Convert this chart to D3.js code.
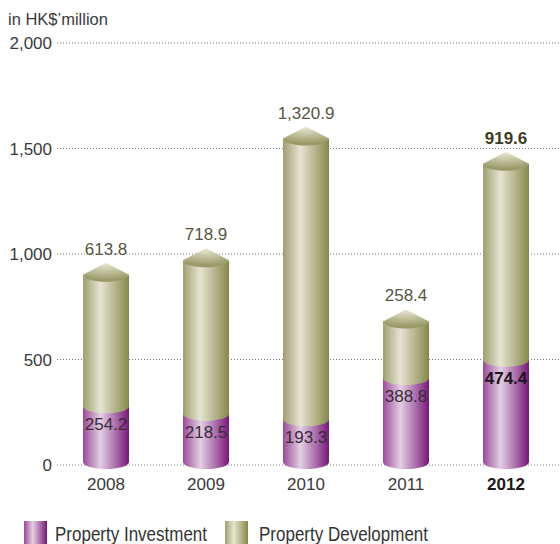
<!DOCTYPE html>
<html>
<head>
<script src="https://cdnjs.cloudflare.com/ajax/libs/d3/7.8.5/d3.min.js"></script>
<style>
  body { margin: 0; background: #fff; }
  text { font-family: "Liberation Sans", Arial, sans-serif; }
</style>
</head>
<body>
<div id="chart"></div>
<script>
var years = ["2008", "2009", "2010", "2011", "2012"];
var investment = [254.2, 218.5, 193.3, 388.8, 474.4];
var development = [613.8, 718.9, 1320.9, 258.4, 919.6];
var yTicks = [0, 500, 1000, 1500, 2000];
var seriesNames = ["Property Investment", "Property Development"];

var W = 560, H = 544;
var svg = d3.select("#chart").append("svg")
  .attr("width", W).attr("height", H);

var y = d3.scaleLinear().domain([0, 2000]).range([465, 43]);
var x = d3.scaleBand().domain(years).range([56, 556]).paddingInner(0.54).paddingOuter(0.27);

var defs = svg.append("defs");
function hGrad(id, stops) {
  var g = defs.append("linearGradient").attr("id", id)
    .attr("x1", "0%").attr("x2", "100%").attr("y1", "0%").attr("y2", "0%");
  stops.forEach(function(s) {
    g.append("stop").attr("offset", s[0]).attr("stop-color", s[1]);
  });
}
hGrad("olive", [["0%", "#9f9f72"], ["38%", "#e6e4d2"], ["100%", "#85874a"]]);
hGrad("purple", [["0%", "#9a4b97"], ["38%", "#e3cfe3"], ["100%", "#781878"]]);
var rg = defs.append("radialGradient").attr("id", "cone")
  .attr("cx", "50%").attr("cy", "0%").attr("r", "90%");
rg.append("stop").attr("offset", "0%").attr("stop-color", "#ecead9");
rg.append("stop").attr("offset", "100%").attr("stop-color", "#999a68");

// grid
svg.append("g").selectAll("line").data(yTicks).enter().append("line")
  .attr("x1", 57).attr("x2", W)
  .attr("y1", function(d) { return y(d); })
  .attr("y2", function(d) { return y(d); })
  .attr("stroke", "#777").attr("stroke-width", 1)
  .attr("stroke-dasharray", "1,2");

svg.append("g").selectAll("text").data(yTicks).enter().append("text")
  .attr("x", 52).attr("y", function(d) { return y(d) + 6; })
  .attr("text-anchor", "end").attr("font-size", 17).attr("fill", "#3a3a3a")
  .text(function(d) { return d3.format(",")(d); });

svg.append("text").attr("x", 8).attr("y", 25).attr("font-size", 16.5)
  .attr("fill", "#3a3a3a").text("in HK$\u2019million");

var ry = 7, off = 5;
function segPath(x0, x1, yb, yt) {
  var rx = (x1 - x0) / 2;
  return "M" + x0 + "," + yt + "L" + x0 + "," + yb +
    "A" + rx + "," + ry + " 0 0 0 " + x1 + "," + yb +
    "L" + x1 + "," + yt + "Z";
}
function conePath(x0, x1, yt) {
  var rx = (x1 - x0) / 2, cx = (x0 + x1) / 2;
  return "M" + x0 + "," + yt + "L" + cx + "," + (yt - 12) + "L" + x1 + "," + yt +
    "A" + rx + "," + ry + " 0 0 1 " + x0 + "," + yt + "Z";
}

var bars = svg.append("g");
years.forEach(function(yr, i) {
  var x0 = x(yr), x1 = x(yr) + x.bandwidth(), cx = (x0 + x1) / 2;
  var inv = investment[i], dev = development[i], tot = inv + dev;
  var bold = yr === "2012";
  var top = y(tot) - 7;
  bars.append("path").attr("d", segPath(x0, x1, y(0) - off + 2, y(inv) - off))
    .attr("fill", "url(#purple)");
  bars.append("path").attr("d", segPath(x0, x1, y(inv) - off, top))
    .attr("fill", "url(#olive)");
  bars.append("path").attr("d", conePath(x0, x1, top))
    .attr("fill", "url(#cone)");

  bars.append("text").attr("x", cx).attr("y", top - 20)
    .attr("text-anchor", "middle").attr("font-size", 17)
    .attr("font-weight", bold ? "bold" : "normal")
    .attr("fill", bold ? "#3c3c22" : "#56563e")
    .text(d3.format(",.1f")(dev));
  bars.append("text").attr("x", cx).attr("y", y(inv) + 19)
    .attr("text-anchor", "middle").attr("font-size", 17)
    .attr("font-weight", bold ? "bold" : "normal")
    .attr("fill", bold ? "#1e141e" : "#3a2a3a")
    .text(d3.format(",.1f")(inv));
  svg.append("text").attr("x", cx).attr("y", 490)
    .attr("text-anchor", "middle").attr("font-size", 17)
    .attr("font-weight", bold ? "bold" : "normal")
    .attr("fill", bold ? "#1e1616" : "#3a3a3a")
    .text(yr);
});

// legend
var legend = svg.append("g");
var legX = [24, 225];
var legTextX = [55, 259];
seriesNames.forEach(function(name, i) {
  legend.append("rect").attr("x", legX[i]).attr("y", 521).attr("width", 23).attr("height", 24)
    .attr("fill", i === 0 ? "url(#purple)" : "url(#olive)");
  legend.append("text")
    .attr("transform", "translate(" + legTextX[i] + ",541) scale(1,1.2)")
    .attr("font-size", 17)
    .attr("fill", "#333")
    .text(name);
});
</script>
</body>
</html>
